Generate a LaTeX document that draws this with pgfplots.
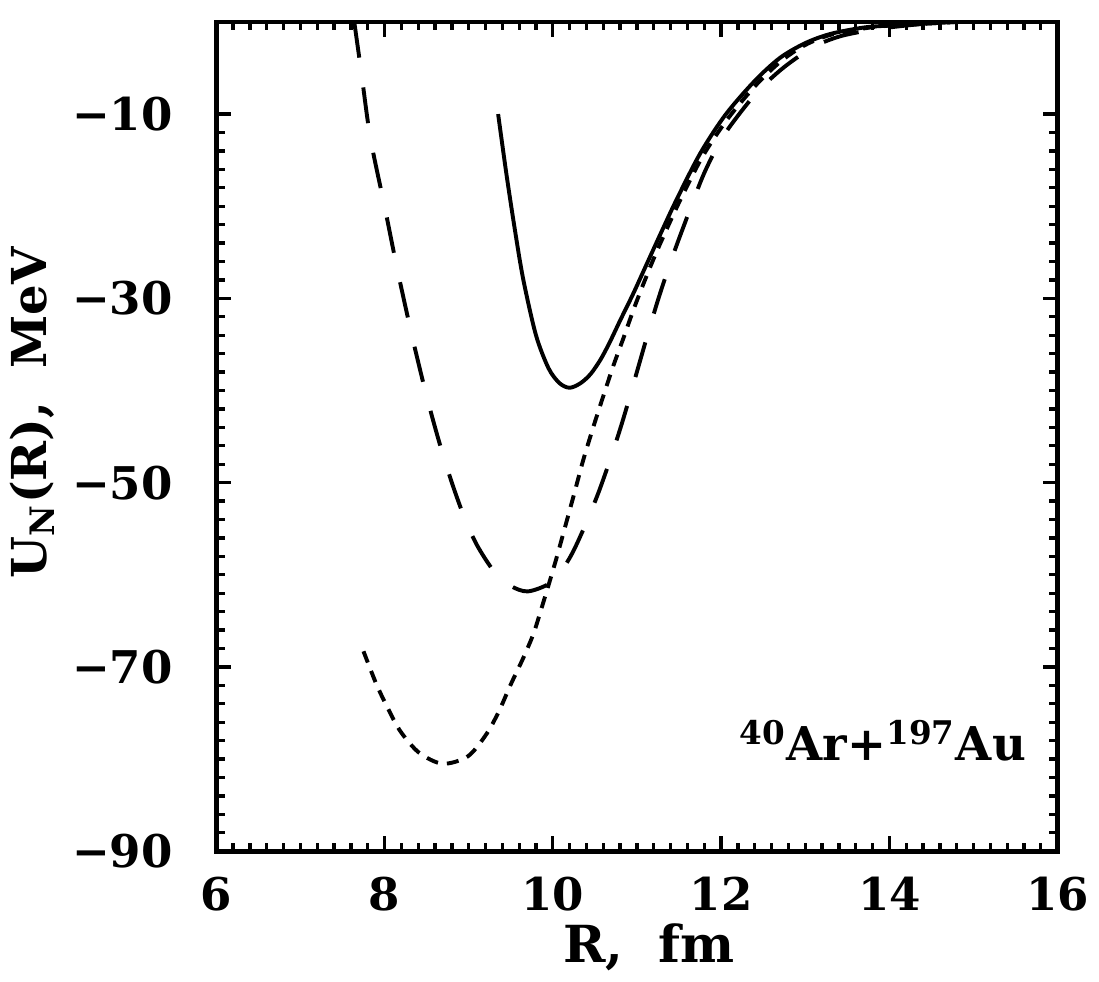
\documentclass[border=0pt]{standalone}
\usepackage{fontspec}
\setmainfont{DejaVu Serif}
\usepackage{pgfplots}
\pgfplotsset{compat=1.18}

\begin{document}
\begin{tikzpicture}
\begin{axis}[
  scale only axis, width=280pt, height=276pt,
  xmin=6, xmax=16, ymin=-90, ymax=0,
  xtick={6,8,...,16}, xticklabels={6,8,10,12,14,16}, minor x tick num=9,
  ytick={-90,-70,-50,-30,-10}, yticklabels={−90,−70,−50,−30,−10},
  minor y tick num=9,
  tick pos=both, tick align=inside,
  major tick length=5pt, minor tick length=2.8pt,
  axis line style={line width=1.6pt},
  every tick/.style={black, line width=1.1pt},
  tick label style={font=\fontsize{15}{18}\selectfont\bfseries},
  xticklabel style={yshift=-5pt},
  yticklabel style={xshift=-11pt},
  xlabel={R,\ \ fm}, ylabel={U\textsubscript{N}(R),\ \ MeV},
  label style={font=\fontsize{16}{19}\selectfont\bfseries},
  xlabel style={font=\fontsize{17}{20}\selectfont\bfseries, yshift=2.5pt, xshift=4pt},
  ylabel style={yshift=-1pt, xshift=8pt},
]
% solid
\addplot[black, line width=1.3pt, smooth] coordinates {
(9.35,-10.0) (9.45,-16.6) (9.55,-22.6) (9.65,-28.0) (9.80,-34.0) (9.95,-37.6)
(10.08,-39.2) (10.20,-39.7) (10.33,-39.2) (10.45,-38.2) (10.57,-36.6) (10.68,-34.7)
(10.80,-32.4) (10.95,-29.6) (11.10,-26.6) (11.28,-23.0) (11.47,-19.3) (11.75,-14.3)
(12.05,-10.1) (12.40,-6.4) (12.70,-3.9) (13.00,-2.3) (13.30,-1.3) (13.70,-0.6)
(14.00,-0.4) (14.40,-0.2) (14.80,0.0)};
% short dashed
\addplot[black, line width=1.3pt, smooth, dash pattern=on 4pt off 3pt] coordinates {
(7.75,-68.3) (7.90,-71.8) (8.04,-74.5) (8.19,-77.0) (8.41,-79.3) (8.69,-80.5)
(8.99,-79.7) (9.21,-77.3) (9.36,-74.8) (9.50,-71.9) (9.65,-69.0) (9.77,-66.4)
(9.86,-63.8) (9.95,-61.1) (10.04,-58.3) (10.14,-55.0) (10.26,-51.0) (10.36,-47.6)
(10.48,-44.0) (10.60,-40.6) (10.72,-37.3) (10.84,-34.3) (10.96,-31.2) (11.10,-27.9)
(11.25,-24.6) (11.50,-19.6) (11.78,-14.6) (12.08,-10.5) (12.42,-6.8) (12.72,-4.2)
(13.00,-2.5) (13.30,-1.4) (13.70,-0.7) (14.00,-0.4) (14.40,-0.2) (14.80,0.0)};
% long dashed
\addplot[black, line width=1.3pt, smooth, dash pattern=on 12pt off 10pt] coordinates {
(7.64,0.0) (7.72,-5.2) (7.83,-12.5) (8.00,-20.0) (8.16,-27.2) (8.34,-34.6)
(8.50,-40.6) (8.65,-45.6) (8.80,-50.0) (8.95,-53.8) (9.10,-56.8) (9.30,-59.6)
(9.50,-61.2) (9.70,-61.8) (9.95,-61.0) (10.10,-59.6) (10.24,-57.5) (10.40,-54.3)
(10.55,-50.9) (10.70,-47.0) (10.82,-43.6) (10.93,-40.2) (11.03,-37.0) (11.15,-33.2)
(11.27,-29.6) (11.41,-25.8) (11.55,-22.3) (11.79,-16.6) (12.00,-12.8) (12.19,-10.3)
(12.45,-7.4) (12.75,-4.9) (13.10,-2.7) (13.40,-1.6) (13.70,-1.0) (14.00,-0.6)
(14.30,-0.3) (14.70,0.0)};
\node[anchor=east, font=\fontsize{15.5}{18}\selectfont\bfseries] at (axis cs:15.75,-78)
  {\textsuperscript{40}Ar+\textsuperscript{197}Au};
\end{axis}
\path (current axis.north) ++(0,7.3pt);
\path (current axis.south) ++(0,-40pt);
\end{tikzpicture}
\end{document}
